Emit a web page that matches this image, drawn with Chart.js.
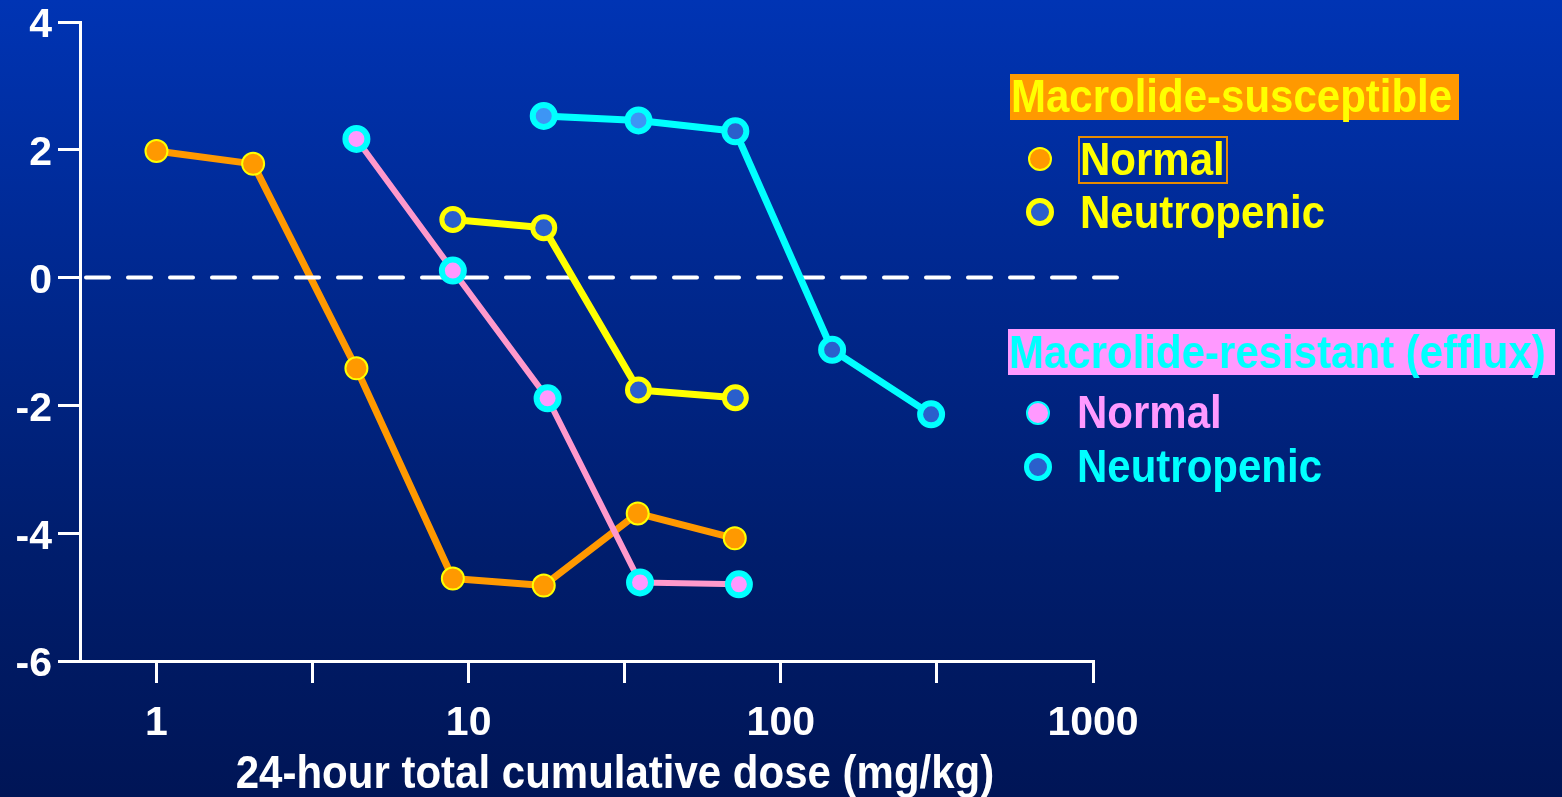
<!DOCTYPE html>
<html>
<head>
<meta charset="utf-8">
<script src="https://cdn.jsdelivr.net/npm/chart.js@4/dist/chart.umd.min.js"></script>
<style>
  html, body { margin: 0; padding: 0; }
  body { width: 1562px; height: 797px; overflow: hidden; }
  #wrap {
    position: relative; width: 1562px; height: 797px;
    background: linear-gradient(to bottom, #0034b4 0%, #00288f 35%, #001d6c 70%, #001556 100%);
    font-family: "Liberation Sans", Arial, Helvetica, sans-serif; font-weight: bold;
  }
  canvas { position: absolute; left: 0; top: 0; }
  .txt { position: absolute; font-size: 42px; line-height: 46px; white-space: nowrap; }
  .txt span { display: inline-block; transform: scaleY(1.1); transform-origin: 50% 55%; }
  .head { position: absolute; height: 46px; }
  .dot { position: absolute; border-radius: 50%; box-sizing: border-box; }
  #xtitle { position: absolute; left: 0; width: 1230px; top: 750px; text-align: center;
            color: #ffffff; font-size: 42px; line-height: 46px; }
  #xtitle span { display: inline-block; transform: scaleY(1.1); }
</style>
</head>
<body>
<div id="wrap">
  <canvas id="c" width="1562" height="797"></canvas>

  <!-- legend: macrolide-susceptible strain -->
  <div class="head" style="left:1010px; top:74px; width:449px; background:#ff9900;"></div>
  <div class="txt" style="left:1011px; top:74px; color:#ffff00;"><span>Macrolide-susceptible</span></div>
  <div class="dot" style="left:1028px; top:147px; width:24px; height:24px; background:#ff9900; border:2px solid #ffff00;"></div>
  <div style="position:absolute; left:1078px; top:136px; width:150px; height:48px; box-sizing:border-box; border:2px solid #e88c00;"></div>
  <div class="txt" style="left:1080px; top:137px; color:#ffff00;"><span>Normal</span></div>
  <div class="dot" style="left:1026px; top:198px; width:28px; height:28px; background:#2a5fcc; border:5px solid #ffff00;"></div>
  <div class="txt" style="left:1080px; top:190px; color:#ffff00;"><span>Neutropenic</span></div>

  <!-- legend: macrolide-resistant (efflux) strain -->
  <div class="head" style="left:1008px; top:329px; width:547px; background:#ff99ff;"></div>
  <div class="txt" style="left:1009px; top:330px; color:#00ffff;"><span>Macrolide-resistant (efflux)</span></div>
  <div class="dot" style="left:1026px; top:401px; width:24px; height:24px; background:#ff99ff; border:2px solid #00ffff;"></div>
  <div class="txt" style="left:1077px; top:390px; color:#ff99ff;"><span>Normal</span></div>
  <div class="dot" style="left:1024px; top:453px; width:28px; height:28px; background:#2a5fcc; border:5px solid #00ffff;"></div>
  <div class="txt" style="left:1077px; top:444px; color:#00ffff;"><span>Neutropenic</span></div>

  <div id="xtitle"><span>24-hour total cumulative dose (mg/kg)</span></div>
</div>

<script>
// Doses (mg/kg per 24 h) and change in log10 CFU/thigh for each group
const susNormalDose = [1.0, 2.04, 4.37, 8.9, 17.4, 34.8, 71.2];
const susNormalLog  = [1.98, 1.78, -1.42, -4.71, -4.82, -3.69, -4.08];

const susNeutroDose = [8.9, 17.4, 35.0, 71.5];
const susNeutroLog  = [0.91, 0.78, -1.76, -1.88];

const resNormalDose = [4.37, 8.9, 17.9, 35.4, 73.4];
const resNormalLog  = [2.17, 0.11, -1.89, -4.77, -4.80];

const resNeutroDose = [17.4, 35.0, 71.5, 146, 303];
const resNeutroLog  = [2.53, 2.46, 2.29, -1.13, -2.14];

// Axis ticks: decades are labelled, half-decades get a bare tick mark
const xTickValues = [1, 3.1623, 10, 31.623, 100, 316.23, 1000];
const xTickLabels = ['1', '', '10', '', '100', '', '1000'];
const yTickValues = [-6, -4, -2, 0, 2, 4];

// Reference line at no change from start of therapy
const baselineDose = [0.5689, 1202];
const baselineLog  = [0, 0];

const pts = (xs, ys) => xs.map((x, i) => ({ x: x, y: ys[i] }));

const tickFont = { family: '"Liberation Sans", Arial, sans-serif', weight: 'bold', size: 41, lineHeight: 1 };

new Chart(document.getElementById('c'), {
  type: 'line',
  data: {
    datasets: [
      {
        label: 'Resistant neutropenic',
        data: pts(resNeutroDose, resNeutroLog),
        borderColor: '#00ffff', borderWidth: 7,
        pointRadius: 11, pointBorderWidth: 6,
        pointBackgroundColor: ['#3d95f5', '#3d95f5', '#2a5fcc', '#2a5fcc', '#2a5fcc'],
        pointBorderColor: '#00ffff',
        order: 1
      },
      {
        label: 'Resistant normal',
        data: pts(resNormalDose, resNormalLog),
        borderColor: '#ff99cc', borderWidth: 6,
        pointRadius: 11, pointBorderWidth: 6,
        pointBackgroundColor: '#ff99ff', pointBorderColor: '#00ffff',
        order: 2
      },
      {
        label: 'Susceptible neutropenic',
        data: pts(susNeutroDose, susNeutroLog),
        borderColor: '#ffff00', borderWidth: 7,
        pointRadius: 11, pointBorderWidth: 5,
        pointBackgroundColor: '#2a5fcc', pointBorderColor: '#ffff00',
        order: 3
      },
      {
        label: 'Baseline',
        data: pts(baselineDose, baselineLog),
        borderColor: '#ffffff', borderWidth: 4,
        borderDash: [23, 19], borderDashOffset: 36,
        pointRadius: 0, clip: false,
        order: 4
      },
      {
        label: 'Susceptible normal',
        data: pts(susNormalDose, susNormalLog),
        borderColor: '#ff9900', borderWidth: 7,
        pointRadius: 11, pointBorderWidth: 2,
        pointBackgroundColor: '#ff9900', pointBorderColor: '#ffff00',
        order: 5
      }
    ]
  },
  options: {
    responsive: false,
    animation: false,
    events: [],
    layout: { padding: { top: 22, right: 469, left: 0, bottom: 0 } },
    plugins: { legend: { display: false }, tooltip: { enabled: false } },
    elements: { line: { tension: 0, borderCapStyle: 'round', borderJoinStyle: 'round' } },
    scales: {
      x: {
        type: 'logarithmic',
        min: baselineDose[0],
        max: 1000,
        afterBuildTicks: s => { s.ticks = xTickValues.map(v => ({ value: v })); },
        afterFit: s => { s.height = 136; s.paddingLeft = 0; s.paddingRight = 0; },
        ticks: {
          autoSkip: false, maxRotation: 0, padding: 20,
          color: '#ffffff', font: tickFont,
          callback: (v, i) => xTickLabels[i]
        },
        grid: { drawOnChartArea: false, drawTicks: true, tickLength: 22, color: '#ffffff', lineWidth: 3 },
        border: { display: true, color: '#ffffff', width: 3 }
      },
      y: {
        min: -6, max: 4,
        afterBuildTicks: s => { s.ticks = yTickValues.map(v => ({ value: v })); },
        afterFit: s => { s.width = 80; s.paddingTop = 0; s.paddingBottom = 0; },
        ticks: { padding: 6, labelOffset: 4, color: '#ffffff', font: tickFont },
        grid: { drawOnChartArea: false, drawTicks: true, tickLength: 22, color: '#ffffff', lineWidth: 3 },
        border: { display: true, color: '#ffffff', width: 3 }
      }
    }
  }
});
</script>
</body>
</html>
